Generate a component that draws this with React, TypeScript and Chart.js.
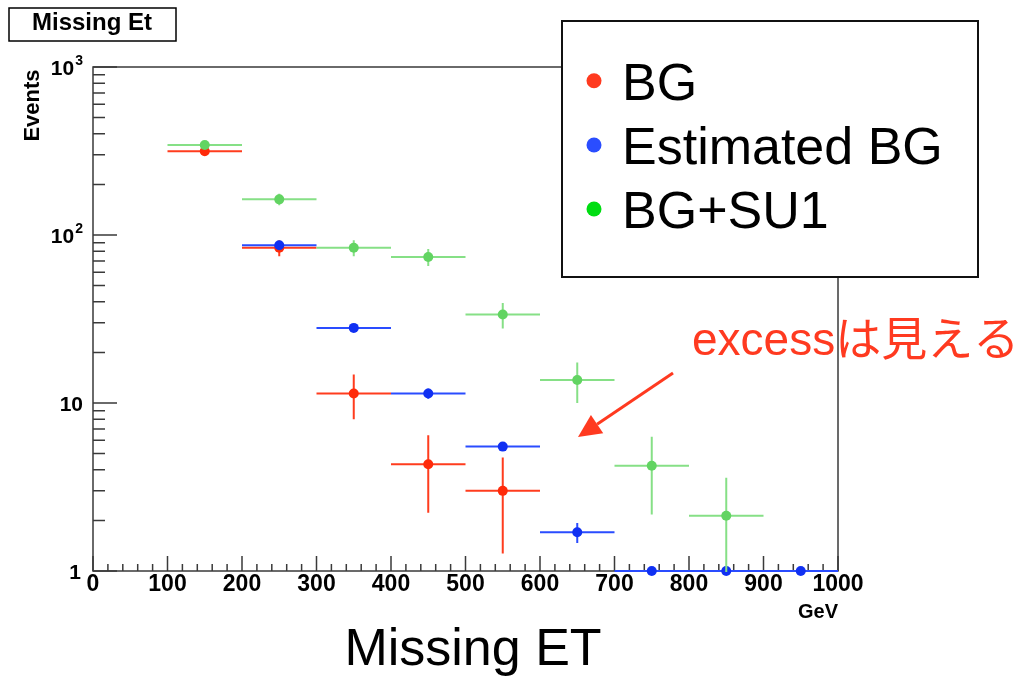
import { useEffect, useRef } from "react";
import { Chart, registerables } from "chart.js";

Chart.register(...registerables);

// Missing transverse energy histograms (bin centres in GeV, bin width 100 GeV)
const BIN_WIDTH = 100;

const bgX = [150, 250, 350, 450, 550];
const bgY = [315, 84, 11.4, 4.32, 3.0];
const bgErr = [17.7, 9.2, 3.4, 2.1, 1.73];

const estX = [250, 350, 450, 550, 650, 750, 850, 950];
const estY = [87, 28, 11.4, 5.5, 1.7, 1, 1, 1];
const estErr = [5, 1.5, 0.8, 0.3, 0.23, 0, 0, 0];

const sigX = [150, 250, 350, 450, 550, 650, 750, 850];
const sigY = [343, 163, 84, 74, 33.6, 13.7, 4.23, 2.13];
const sigErr = [18.5, 12.8, 9.2, 8.6, 5.8, 3.7, 2.06, 1.46];

const xTickValues = [0, 100, 200, 300, 400, 500, 600, 700, 800, 900, 1000];
const xMinorStep = 20;
const yDecades = [1, 10, 100, 1000];
const yTickLabels = [
  { value: 1, base: "1", exp: "" },
  { value: 10, base: "10", exp: "" },
  { value: 100, base: "10", exp: "2" },
  { value: 1000, base: "10", exp: "3" },
];

const seriesLabels = ["BG", "Estimated BG", "BG+SU1"];
const lineColors = ["#ff3c1e", "#2a4cff", "#86e086"];
const dotColors = ["#ff2a0a", "#1030f2", "#62d462"];
const legendColors = ["#ff3a1f", "#2a4dff", "#00dd12"];
const errors = [bgErr, estErr, sigErr];

const SANS = '"Liberation Sans", Arial, Helvetica, sans-serif';

const rootStyle = {
  id: "rootStyle",
  beforeDatasetsDraw(chart: any) {
    const { ctx, chartArea: a, scales } = chart;
    const xs = scales.x;
    const ys = scales.y;
    ctx.save();
    // frame
    ctx.strokeStyle = "#3a3a3a";
    ctx.lineWidth = 1.5;
    ctx.strokeRect(a.left, a.top, a.right - a.left, a.bottom - a.top);

    // y ticks (log)
    ctx.beginPath();
    for (let d = 0; d < yDecades.length; d++) {
      const dec = yDecades[d];
      const py = ys.getPixelForValue(dec);
      ctx.moveTo(a.left, py);
      ctx.lineTo(a.left + 24, py);
      if (dec < 1000) {
        for (let k = 2; k <= 9; k++) {
          const my = ys.getPixelForValue(k * dec);
          ctx.moveTo(a.left, my);
          ctx.lineTo(a.left + 12, my);
        }
      }
    }
    // x ticks
    for (let v = 0; v <= 1000; v += xMinorStep) {
      const px = xs.getPixelForValue(v);
      const len = v % 100 === 0 ? 15 : 7;
      ctx.moveTo(px, a.bottom);
      ctx.lineTo(px, a.bottom - len);
    }
    ctx.stroke();

    // x tick labels
    ctx.fillStyle = "#000";
    ctx.font = `bold 23px ${SANS}`;
    ctx.textAlign = "center";
    ctx.textBaseline = "alphabetic";
    for (const v of xTickValues) {
      ctx.fillText(String(v), xs.getPixelForValue(v), 591);
    }
    // x axis unit
    ctx.textAlign = "right";
    ctx.font = `bold 20px ${SANS}`;
    ctx.fillText("GeV", a.right, 618);

    // y tick labels
    const rightEdge = 83;
    for (const t of yTickLabels) {
      const py = ys.getPixelForValue(t.value);
      if (t.exp) {
        ctx.font = `bold 14px ${SANS}`;
        const ew = ctx.measureText(t.exp).width;
        ctx.textAlign = "right";
        ctx.fillText(t.exp, rightEdge, py - 2);
        ctx.font = `bold 21px ${SANS}`;
        ctx.fillText(t.base, rightEdge - ew - 1, py + 8);
      } else {
        ctx.font = `bold 21px ${SANS}`;
        ctx.textAlign = "right";
        ctx.fillText(t.base, t.value === 1 ? rightEdge - 2 : rightEdge, py + 8);
      }
    }

    // y axis title
    ctx.save();
    ctx.translate(39, 105.5);
    ctx.rotate(-Math.PI / 2);
    ctx.font = `bold 22px ${SANS}`;
    ctx.textAlign = "center";
    ctx.fillText("Events", 0, 0);
    ctx.restore();

    // histogram title box
    ctx.fillStyle = "#fff";
    ctx.fillRect(9, 8, 167, 33);
    ctx.strokeStyle = "#000";
    ctx.lineWidth = 1.5;
    ctx.strokeRect(9, 8, 167, 33);
    ctx.fillStyle = "#000";
    ctx.font = `bold 24px ${SANS}`;
    ctx.textAlign = "center";
    ctx.fillText("Missing Et", 92, 30);
    ctx.restore();
  },
  beforeDatasetDraw(chart: any, args: any) {
    const { ctx, chartArea: a, scales } = chart;
    const xs = scales.x;
    const ys = scales.y;
    const i = args.index;
    const data = chart.data.datasets[i].data as { x: number; y: number }[];
    const err = errors[i];
    ctx.save();
    ctx.beginPath();
    ctx.rect(a.left, a.top - 1, a.right - a.left, a.bottom - a.top + 2);
    ctx.clip();
    ctx.strokeStyle = lineColors[i];
    ctx.lineWidth = 2;
    ctx.beginPath();
    data.forEach((p, j) => {
      const py = ys.getPixelForValue(p.y);
      const x0 = xs.getPixelForValue(p.x - BIN_WIDTH / 2);
      const x1 = xs.getPixelForValue(p.x + BIN_WIDTH / 2);
      ctx.moveTo(x0, py);
      ctx.lineTo(x1, py);
      if (err[j] > 0) {
        const px = xs.getPixelForValue(p.x);
        const lo = Math.max(p.y - err[j], 0.5);
        ctx.moveTo(px, ys.getPixelForValue(p.y + err[j]));
        ctx.lineTo(px, ys.getPixelForValue(lo));
      }
    });
    ctx.stroke();
    ctx.restore();
  },
  afterDraw(chart: any) {
    const { ctx } = chart;
    ctx.save();
    // legend
    const lx = 562, ly = 21, lw = 416, lh = 256;
    ctx.fillStyle = "#fff";
    ctx.fillRect(lx, ly, lw, lh);
    ctx.strokeStyle = "#111";
    ctx.lineWidth = 2;
    ctx.strokeRect(lx, ly, lw, lh);
    const rows = [80.7, 145, 209];
    ctx.font = `52px ${SANS}`;
    ctx.textAlign = "left";
    ctx.textBaseline = "alphabetic";
    seriesLabels.forEach((lab, k) => {
      ctx.fillStyle = legendColors[k];
      ctx.beginPath();
      ctx.arc(594, rows[k], 7.5, 0, Math.PI * 2);
      ctx.fill();
      ctx.fillStyle = "#000";
      ctx.fillText(lab, 622, rows[k] + 19);
    });

    // annotation
    const red = "#ff3a20";
    ctx.fillStyle = red;
    ctx.font = `46px ${SANS}, "Noto Sans CJK JP"`;
    ctx.fillText("excessは見える", 692, 355);

    const tail = { x: 673, y: 373 };
    const tip = { x: 578, y: 437 };
    const dx = tip.x - tail.x, dy = tip.y - tail.y;
    const L = Math.hypot(dx, dy);
    const ux = dx / L, uy = dy / L;
    const headLen = 23, headHalf = 11;
    const bx = tip.x - ux * headLen, by = tip.y - uy * headLen;
    ctx.strokeStyle = red;
    ctx.lineWidth = 3;
    ctx.beginPath();
    ctx.moveTo(tail.x, tail.y);
    ctx.lineTo(bx, by);
    ctx.stroke();
    ctx.beginPath();
    ctx.moveTo(tip.x, tip.y);
    ctx.lineTo(bx - uy * headHalf, by + ux * headHalf);
    ctx.lineTo(bx + uy * headHalf, by - ux * headHalf);
    ctx.closePath();
    ctx.fill();

    // caption
    ctx.fillStyle = "#000";
    ctx.font = `52px ${SANS}`;
    ctx.textAlign = "center";
    ctx.fillText("Missing ET", 473, 665);
    ctx.restore();
  },
};

export default function App() {
  const canvasRef = useRef<HTMLCanvasElement | null>(null);

  useEffect(() => {
    const canvas = canvasRef.current;
    if (!canvas) return;
    const sets = [
      { xs: bgX, ys: bgY },
      { xs: estX, ys: estY },
      { xs: sigX, ys: sigY },
    ];
    const chart = new Chart(canvas, {
      type: "scatter",
      data: {
        datasets: sets.map((s, i) => ({
          label: seriesLabels[i],
          data: s.xs.map((x, j) => ({ x, y: s.ys[j] })),
          pointRadius: 5,
          pointHoverRadius: 5,
          pointBorderWidth: 0,
          pointBackgroundColor: dotColors[i],
          borderColor: dotColors[i],
          showLine: false,
          clip: false as any,
          order: 3 - i,
        })),
      },
      options: {
        animation: false,
        responsive: false,
        devicePixelRatio: 1,
        events: [],
        layout: { padding: { left: 93, right: 185, top: 67, bottom: 106 } },
        scales: {
          x: { type: "linear", min: 0, max: 1000, display: false },
          y: { type: "logarithmic", min: 1, max: 1000, display: false },
        },
        plugins: {
          legend: { display: false },
          tooltip: { enabled: false },
          title: { display: false },
        },
      },
      plugins: [rootStyle],
    });
    return () => chart.destroy();
  }, []);

  return (
    <div style={{ position: "absolute", left: 0, top: 0, width: 1023, height: 677, background: "#fff" }}>
      <canvas ref={canvasRef} width={1023} height={677} style={{ display: "block" }} />
    </div>
  );
}
